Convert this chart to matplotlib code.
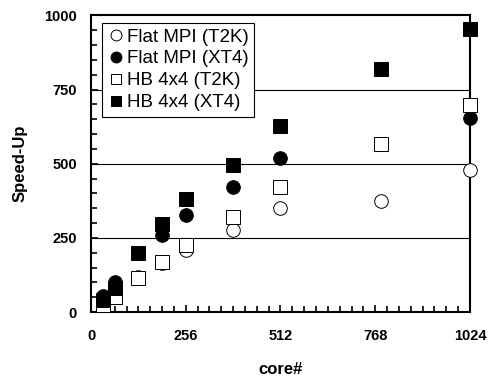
import matplotlib.pyplot as plt
from matplotlib.ticker import MultipleLocator

plt.rcParams['font.family'] = ['Liberation Sans', 'DejaVu Sans']

cores = [32, 64, 128, 192, 256, 384, 512, 784, 1024]
flat_t2k = [25, 58, 118, 164, 209, 277, 351, 376, 479]
flat_xt4 = [54, 102, None, 260, 327, 421, 520, None, 654]
hb_t2k = [23, 52, 116, 170, 226, 322, 420, 567, 699]
hb_xt4 = [40, 80, 198, 297, 380, 497, 628, 821, 954]

series = [
    ('Flat MPI (T2K)', flat_t2k, 'o', 'white'),
    ('Flat MPI (XT4)', flat_xt4, 'o', 'black'),
    ('HB 4x4 (T2K)', hb_t2k, 's', 'white'),
    ('HB 4x4 (XT4)', hb_xt4, 's', 'black'),
]

fig = plt.figure(figsize=(4.93, 3.76), dpi=100)
ax = fig.add_axes([0.1846, 0.1702, 0.7687, 0.7886])

for y in [250, 500, 750]:
    ax.axhline(y, color='black', lw=0.8, zorder=1)

for label, vals, m, fc in series:
    xs = [c for c, v in zip(cores, vals) if v is not None]
    ys = [v for v in vals if v is not None]
    ax.plot(xs, ys, ls='none', marker=m, ms=9.8, mfc=fc, mec='black',
            mew=0.7, label=label, zorder=3, clip_on=False)

ax.set_xlim(0, 1024)
ax.set_ylim(0, 1000)
ax.set_xticks([0, 256, 512, 768, 1024])
ax.set_yticks([0, 250, 500, 750, 1000])
ax.xaxis.set_minor_locator(MultipleLocator(32))
ax.yaxis.set_minor_locator(MultipleLocator(50))
ax.tick_params(which='both', direction='in', width=1.2, labelsize=10.5)
ax.tick_params(which='major', length=5)
ax.tick_params(which='minor', length=4)
ax.tick_params(axis='x', pad=12)
ax.tick_params(axis='y', pad=10)
for lbl in ax.get_xticklabels() + ax.get_yticklabels():
    lbl.set_fontweight('bold')
for s in ax.spines.values():
    s.set_linewidth(1.5)

ax.set_xlabel('core#', fontsize=12, fontweight='bold', labelpad=14)
ax.set_ylabel('Speed-Up', fontsize=12, fontweight='bold', labelpad=12)

leg = ax.legend(loc='upper left', bbox_to_anchor=(0.03, 0.975), fontsize=13.5,
                frameon=True, fancybox=False, handletextpad=0.1,
                handlelength=0.9, borderpad=0.3, labelspacing=0.25,
                markerscale=0.8, borderaxespad=0)
leg.get_frame().set_edgecolor('black')
leg.get_frame().set_linewidth(0.8)
leg.get_frame().set_alpha(1)

fig.savefig('out.png', dpi=100)
